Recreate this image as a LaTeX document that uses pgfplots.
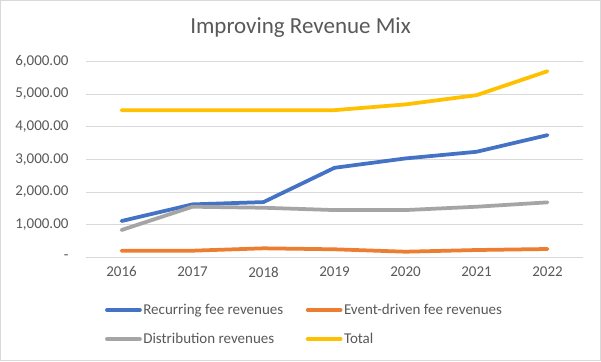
\documentclass[border=0pt]{standalone}
\usepackage{pgfplots}
\pgfplotsset{compat=1.18}
\usepackage{fontspec}
\setmainfont{Carlito}
\definecolor{txt}{HTML}{595959}
\definecolor{gridc}{HTML}{D9D9D9}
\definecolor{c1}{HTML}{4472C4}
\definecolor{c2}{HTML}{ED7D31}
\definecolor{c3}{HTML}{A5A5A5}
\definecolor{c4}{HTML}{FFC000}
\begin{document}
\begin{tikzpicture}[x=1pt,y=1pt]
\path[use as bounding box] (0,0) rectangle (601,361);
\fill[white] (0,0) rectangle (601,361);
\draw[gridc, line width=1pt] (0.5,0.5) rectangle (600.5,360.5);
\node[text=txt, font=\fontsize{23}{27}\selectfont] at (300.5,333) {Improving Revenue Mix};
\begin{axis}[
  at={(86pt,103.7pt)}, anchor=south west,
  scale only axis, width=497pt, height=196pt,
  xmin=2015.5, xmax=2022.5, ymin=0, ymax=6000,
  xtick={2016,2017,2018,2019,2020,2021,2022},
  xticklabels={2016,2017,2018,2019,2020,2021,2022},
  ytick={0,1000,2000,3000,4000,5000,6000},
  yticklabels={{-\hspace{8pt}},{1,000.00},{2,000.00},{3,000.00},{4,000.00},{5,000.00},{6,000.00}},
  ymajorgrids, grid style={gridc, line width=0.75pt},
  major tick length=0pt,
  axis x line*=bottom, axis y line*=left,
  x axis line style={gridc, line width=0.75pt, -},
  y axis line style={draw=none},
  tick label style={text=txt, font=\fontsize{15}{18}\selectfont},
  yticklabel style={anchor=east, xshift=-14pt},
  xticklabel style={yshift=-6pt},
  /pgf/number format/assume math mode=true,
  legend columns=2,
  legend style={draw=none, fill=none, at={(0.038,-0.23)}, anchor=north west,
    font=\fontsize{15}{18}\selectfont, text=txt, inner sep=0pt,
    row sep=14pt,
    /tikz/every even column/.append style={column sep=21pt},
    nodes={inner sep=1.5pt}},
  legend cell align=left,
  legend image code/.code={\draw[#1, line width=3.75pt] (0pt,0pt) -- (33pt,0pt);},
  every axis plot/.append style={line width=3.75pt, line join=round, line cap=round, mark=none},
]
\addplot[c1] coordinates {(2016,1110) (2017,1620) (2018,1690) (2019,2740) (2020,3027) (2021,3230) (2022,3740)};
\addlegendentry{Recurring fee revenues}
\addplot[c2] coordinates {(2016,202) (2017,202) (2018,275) (2019,245) (2020,171) (2021,223) (2022,254)};
\addlegendentry{Event-driven fee revenues}
\addplot[c3] coordinates {(2016,835) (2017,1548) (2018,1517) (2019,1446) (2020,1446) (2021,1548) (2022,1682)};
\addlegendentry{Distribution revenues}
\addplot[c4] coordinates {(2016,4505) (2017,4505) (2018,4505) (2019,4505) (2020,4680) (2021,4963) (2022,5697)};
\addlegendentry{Total}
\end{axis}
\end{tikzpicture}
\end{document}
